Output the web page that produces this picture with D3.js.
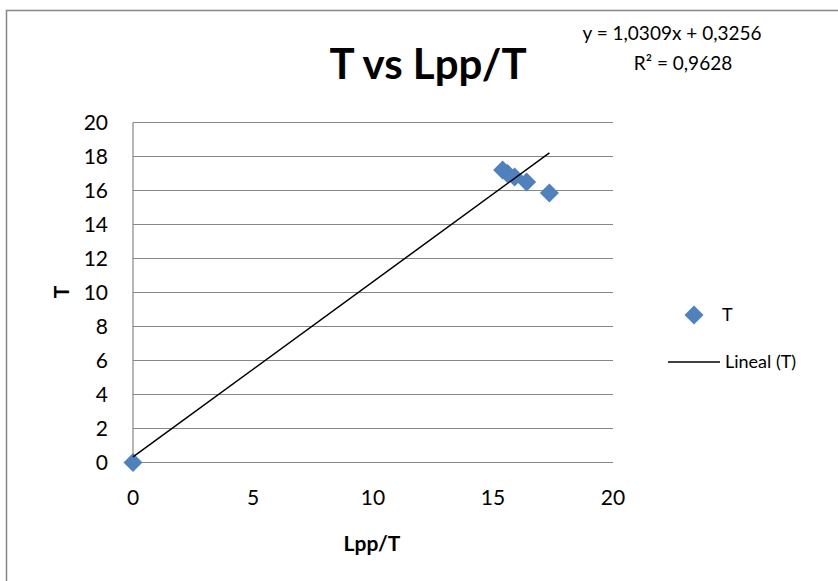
<!DOCTYPE html>
<html>
  <head>
    <meta http-equiv="Content-type" content="text/html; charset=utf-8">
    <title>T vs Lpp/T</title>
    <script src="https://d3js.org/d3.v7.min.js"></script>
    <style>
      body { margin: 0; background: #fff; }
      text { font-family: Lato, "Open Sans", sans-serif; fill: #000; }
    </style>
  </head>
  <body>
  <div id="chart"></div>
  <script type="text/javascript">
    // points
    var lppT = [0, 15.4, 15.6, 15.9, 16.4, 17.35];
    var tVals = [0, 17.2, 17.0, 16.8, 16.5, 15.85];
    // trendline shown on the chart
    var trendSlope = 1.0309;
    var trendIntercept = 0.3256;
    var xTicks = [0, 5, 10, 15, 20];
    var yTicks = [0, 2, 4, 6, 8, 10, 12, 14, 16, 18, 20];

    var width = 838, height = 581;
    var svg = d3.select('#chart').append('svg')
      .attr('width', width).attr('height', height);

    // chart outer border
    svg.append('path')
      .attr('d', 'M6.5,' + height + 'V10.5H' + width)
      .attr('fill', 'none').attr('stroke', '#868686').attr('stroke-width', 1.5);

    var x = d3.scaleLinear().domain([0, 20]).range([133, 613]);
    var y = d3.scaleLinear().domain([0, 20]).range([462.5, 122.5]);

    // gridlines
    svg.append('g').selectAll('line').data(yTicks).enter().append('line')
      .attr('x1', x(0)).attr('x2', x(20))
      .attr('y1', function(d) { return y(d); })
      .attr('y2', function(d) { return y(d); })
      .attr('stroke', '#868686').attr('stroke-width', 1.2);
    svg.append('line')
      .attr('x1', x(0)).attr('x2', x(0)).attr('y1', y(0)).attr('y2', y(20))
      .attr('stroke', '#868686').attr('stroke-width', 1.2);

    // tick labels
    svg.append('g').selectAll('text').data(yTicks).enter().append('text')
      .attr('x', 108).attr('y', function(d) { return y(d); })
      .attr('dy', '0.35em').attr('text-anchor', 'end')
      .style('font-size', '21px')
      .text(function(d) { return d; });
    svg.append('g').selectAll('text').data(xTicks).enter().append('text')
      .attr('x', function(d) { return x(d); }).attr('y', 498)
      .attr('dy', '0.35em').attr('text-anchor', 'middle')
      .style('font-size', '21px')
      .text(function(d) { return d; });

    // axis titles
    svg.append('text').attr('x', 372).attr('y', 544).attr('dy', '0.35em')
      .attr('text-anchor', 'middle').style('font-size', '21px').style('font-weight', 'bold')
      .text('Lpp/T');
    svg.append('text').attr('transform', 'translate(62,292) rotate(-90)').attr('dy', '0.35em')
      .attr('text-anchor', 'middle').style('font-size', '21px').style('font-weight', 'bold')
      .text('T');

    // title and equation
    svg.append('text').attr('x', 428).attr('y', 64).attr('dy', '0.35em')
      .attr('text-anchor', 'middle').style('font-size', '42px').style('font-weight', 'bold')
      .text('T vs Lpp/T');
    svg.append('text').attr('x', 672).attr('y', 33).attr('dy', '0.35em')
      .attr('text-anchor', 'middle').style('font-size', '19px')
      .text('y = ' + String(trendSlope).replace('.', ',') + 'x + ' + String(trendIntercept).replace('.', ','));
    svg.append('text').attr('x', 683).attr('y', 63).attr('dy', '0.35em')
      .attr('text-anchor', 'middle').style('font-size', '19px')
      .text('R² = 0,9628');

    var diamond = d3.symbol().type(d3.symbolDiamond2).size(230);
    var pts = lppT.map(function(v, i) { return [v, tVals[i]]; });

    // points
    svg.append('g').selectAll('path').data(pts).enter().append('path')
      .attr('d', diamond)
      .attr('transform', function(d) { return 'translate(' + x(d[0]) + ',' + y(d[1]) + ')'; })
      .attr('fill', '#4F81BD');

    // trendline
    var xMax = d3.max(lppT);
    var line = d3.line().x(function(d) { return x(d); })
      .y(function(d) { return y(trendSlope * d + trendIntercept); });
    svg.append('path').datum([0, xMax]).attr('d', line)
      .attr('fill', 'none').attr('stroke', '#000').attr('stroke-width', 1.5);

    // legend
    svg.append('path').attr('d', diamond).attr('transform', 'translate(694,315)').attr('fill', '#4F81BD');
    svg.append('text').attr('x', 722).attr('y', 315).attr('dy', '0.35em')
      .style('font-size', '18px').text('T');
    svg.append('line').attr('x1', 668).attr('x2', 720).attr('y1', 362).attr('y2', 362)
      .attr('stroke', '#000').attr('stroke-width', 1.5);
    svg.append('text').attr('x', 725).attr('y', 362).attr('dy', '0.35em')
      .style('font-size', '18px').text('Lineal (T)');
  </script>
  </body>
</html>
